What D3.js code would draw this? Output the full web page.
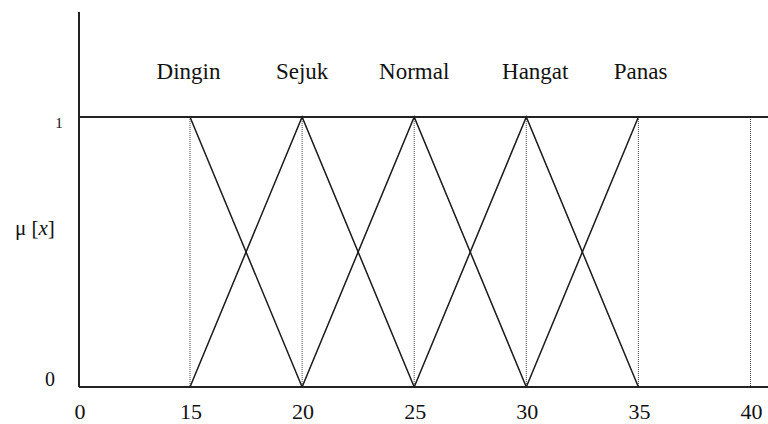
<!DOCTYPE html>
<html>
<head>
<meta charset="utf-8">
<script src="https://cdn.jsdelivr.net/npm/d3@7"></script>
<style>
  body { margin: 0; background: #fff; }
</style>
</head>
<body>
<script>
// fuzzy sets for temperature
const categories = ['Dingin', 'Sejuk', 'Normal', 'Hangat', 'Panas'];
const labelAt = [14.8, 20, 25, 30.4, 35.1];
const xTicks = [0, 15, 20, 25, 30, 35, 40];
const guides = [15, 20, 25, 30, 35, 40];
const dingin = [[15, 1], [20, 0]];
const sejuk = [[15, 0], [20, 1], [25, 0]];
const normal = [[20, 0], [25, 1], [30, 0]];
const hangat = [[25, 0], [30, 1], [35, 0]];
const panas = [[30, 0], [35, 1]];
const sets = [dingin, sejuk, normal, hangat, panas];

const width = 768, height = 424;
const serif = "'Liberation Serif', 'Times New Roman', Times, 'DejaVu Serif', serif";

// axis is compressed between 0 and 15
const x = d3.scaleLinear().domain([0, 15, 40]).range([79, 190, 750.5]);
const y = d3.scaleLinear().domain([0, 1]).range([387, 117]);

const svg = d3.select('body').append('svg')
  .attr('width', width)
  .attr('height', height)
  .attr('font-family', serif)
  .attr('fill', '#111');

// dotted guides
svg.append('g').selectAll('line')
  .data(guides)
  .enter().append('line')
  .attr('x1', d => x(d)).attr('x2', d => x(d))
  .attr('y1', y(1)).attr('y2', y(0))
  .attr('stroke', '#444')
  .attr('stroke-width', 1)
  .attr('stroke-dasharray', '1,1');

// membership lines
const line = d3.line().x(d => x(d[0])).y(d => y(d[1]));
svg.append('g').selectAll('path')
  .data(sets)
  .enter().append('path')
  .attr('d', line)
  .attr('fill', 'none')
  .attr('stroke', '#1a1a1a')
  .attr('stroke-width', 1.5);

// frame lines
svg.append('line')
  .attr('x1', x(0)).attr('x2', width)
  .attr('y1', y(1)).attr('y2', y(1))
  .attr('stroke', '#222').attr('stroke-width', 2);
svg.append('line')
  .attr('x1', x(0)).attr('x2', width)
  .attr('y1', y(0)).attr('y2', y(0))
  .attr('stroke', '#222').attr('stroke-width', 2);
svg.append('line')
  .attr('x1', x(0)).attr('x2', x(0))
  .attr('y1', 12).attr('y2', y(0))
  .attr('stroke', '#222').attr('stroke-width', 2);

// x tick labels
svg.append('g').selectAll('text')
  .data(xTicks)
  .enter().append('text')
  .attr('x', d => x(d) + 1)
  .attr('y', 419)
  .attr('text-anchor', 'middle')
  .attr('font-size', 22)
  .text(d => d);

// set names
svg.append('g').selectAll('text')
  .data(categories)
  .enter().append('text')
  .attr('x', (d, i) => x(labelAt[i]))
  .attr('y', 79)
  .attr('text-anchor', 'middle')
  .attr('font-size', 23)
  .text(d => d);

// y labels
svg.append('text')
  .attr('x', 59).attr('y', 128)
  .attr('text-anchor', 'middle')
  .attr('font-size', 15)
  .text('1');
svg.append('text')
  .attr('x', 50).attr('y', 386)
  .attr('text-anchor', 'middle')
  .attr('font-size', 20)
  .text('0');

const mu = svg.append('text')
  .attr('x', 15).attr('y', 235)
  .attr('font-size', 21);
mu.append('tspan').text('μ [');
mu.append('tspan').attr('font-style', 'italic').text('x');
mu.append('tspan').text(']');
</script>
</body>
</html>
